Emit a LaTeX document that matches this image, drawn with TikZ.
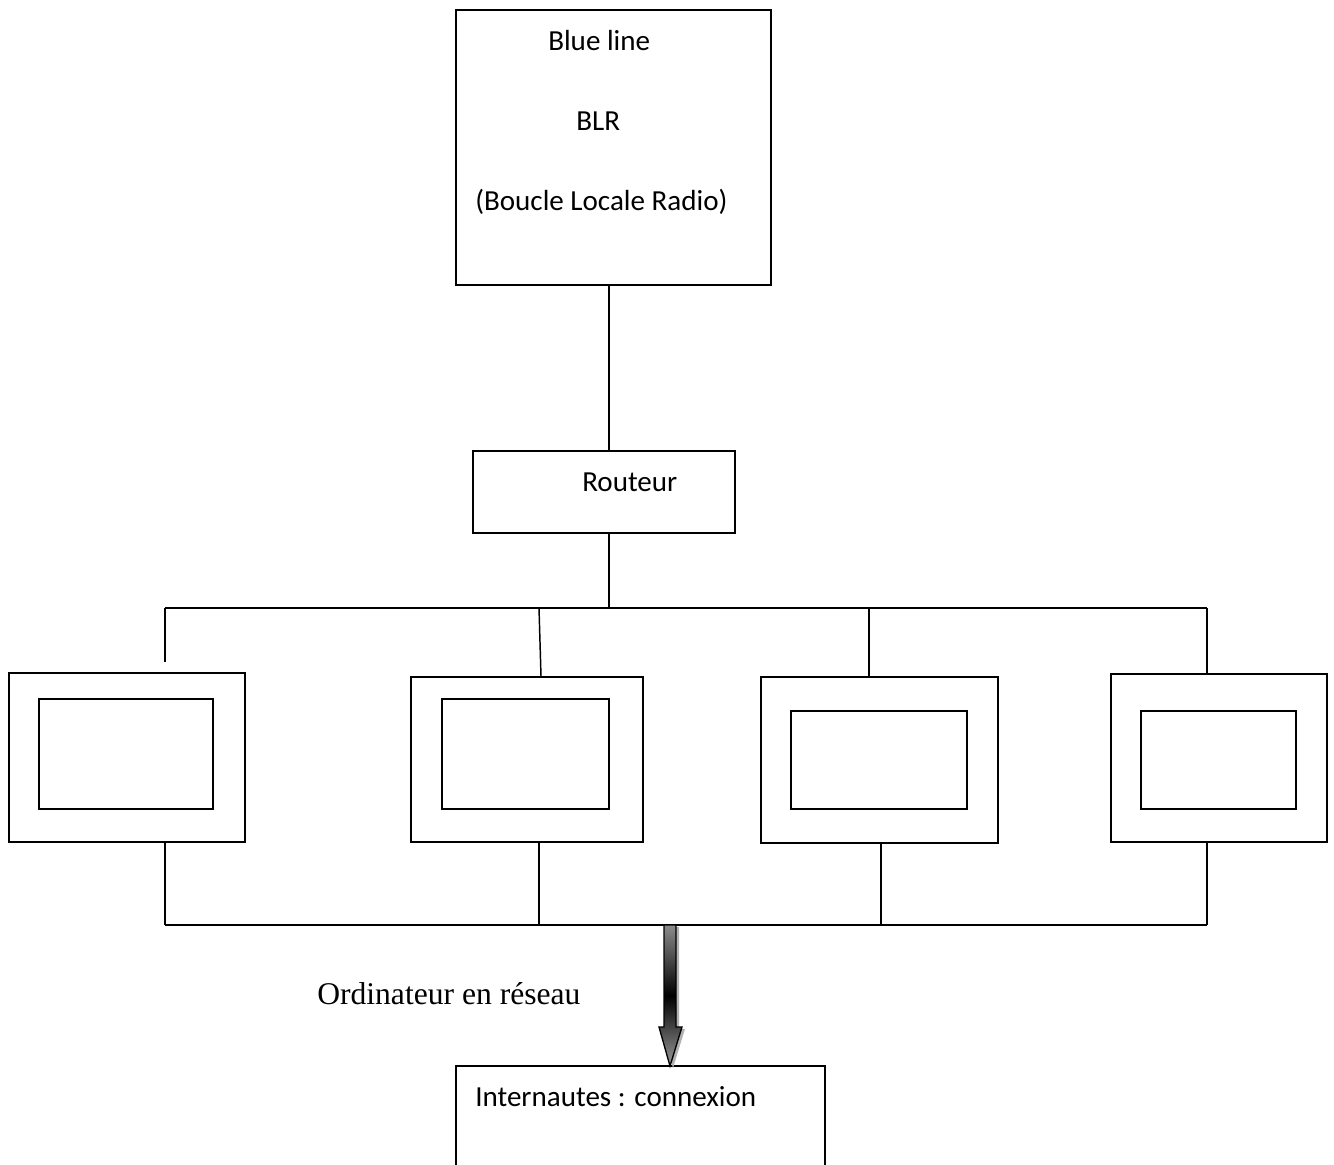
\documentclass[tikz,border=0pt]{standalone}
\usepackage{fontspec}
\setmainfont{Carlito}
\newfontfamily\timesf{Liberation Serif}
\begin{document}
\begin{tikzpicture}[x=0.75pt,y=-0.75pt,
  box/.style={draw,line width=1.1pt,inner sep=0pt},
  wire/.style={line width=1.1pt},
  lbl/.style={font=\fontsize{21.8}{26}\selectfont,inner sep=0pt,anchor=base west},
  tlbl/.style={font=\timesf\fontsize{23.7}{28}\selectfont,inner sep=0pt,anchor=base west}]
\clip (0,0) rectangle (1334,1164);
% main boxes
\node[box,minimum width=236.25pt,minimum height=206.25pt] (blr) at (613.5,147.5) {};
\node[box,minimum width=196.5pt,minimum height=61.5pt] (rt) at (604,492) {};
\node[box,minimum width=276.75pt,minimum height=85.5pt] (inet) at (640.5,1123) {};
% computers
\node[box,minimum width=177pt,minimum height=126.75pt] (c1) at (127,757.5) {};
\node[box,minimum width=130.5pt,minimum height=82.5pt] (s1) at (126,754) {};
\node[box,minimum width=174pt,minimum height=123.75pt] (c2) at (527,759.5) {};
\node[box,minimum width=125.25pt,minimum height=82.5pt] (s2) at (525.5,754) {};
\node[box,minimum width=177.75pt,minimum height=124.5pt] (c3) at (879.5,760) {};
\node[box,minimum width=132pt,minimum height=73.5pt] (s3) at (879,760) {};
\node[box,minimum width=162pt,minimum height=126pt] (c4) at (1219,758) {};
\node[box,minimum width=116.25pt,minimum height=73.5pt] (s4) at (1218.5,760) {};
% labels
\node[lbl] (t1) at (548,50) {Blue line};
\node[lbl] (t2) at (576,130) {BLR};
\node[lbl] (t3) at (475,210) {(Boucle Locale Radio)};
\node[lbl] (t4) at (582,491) {Routeur};
\node[lbl] (t5) at (475,1106) {Internautes : connexion};
\node[tlbl] (t6) at (317,1004) {Ordinateur en réseau};
% coordinates
\coordinate (bx) at (609,0);
\coordinate (tL) at (165,608);
\coordinate (t2x) at (539,608);
\coordinate (t3x) at (869,608);
\coordinate (tR) at (1207,608);
\coordinate (e1) at (165,662);
\coordinate (x2) at (541,0);
\coordinate (bL) at (165,925);
\coordinate (b2) at (539,925);
\coordinate (b3) at (881,925);
\coordinate (bR) at (1207,925);
% connectors
\draw[wire] (blr.south -| bx) -- (rt.north -| bx);
\draw[wire] (rt.south -| bx) -- (bx |- tL);
\draw[wire] (tL) -- (tR);
\draw[wire] (tL) -- (e1);
\draw[wire] (t2x) -- (c2.north -| x2);
\draw[wire] (t3x) -- (c3.north -| t3x);
\draw[wire] (tR) -- (c4.north -| tR);
\draw[wire] (c1.south -| bL) -- (bL);
\draw[wire] (c2.south -| b2) -- (b2);
\draw[wire] (c3.south -| b3) -- (b3);
\draw[wire] (c4.south -| bR) -- (bR);
\draw[wire] (bL) -- (bR);
% arrow
\fill[gray!60] (667,927) -- (679,927) -- (679,1029) -- (685,1029) -- (673,1068) -- (662,1029) -- (667,1029) -- cycle;
\shade[top color=gray!90,bottom color=gray!80,middle color=black,draw=black,line width=1pt]
  (664,925) -- (676,925) -- (676,1027) -- (682,1027) -- (670,1066) -- (659,1027) -- (664,1027) -- cycle;
\end{tikzpicture}
\end{document}
